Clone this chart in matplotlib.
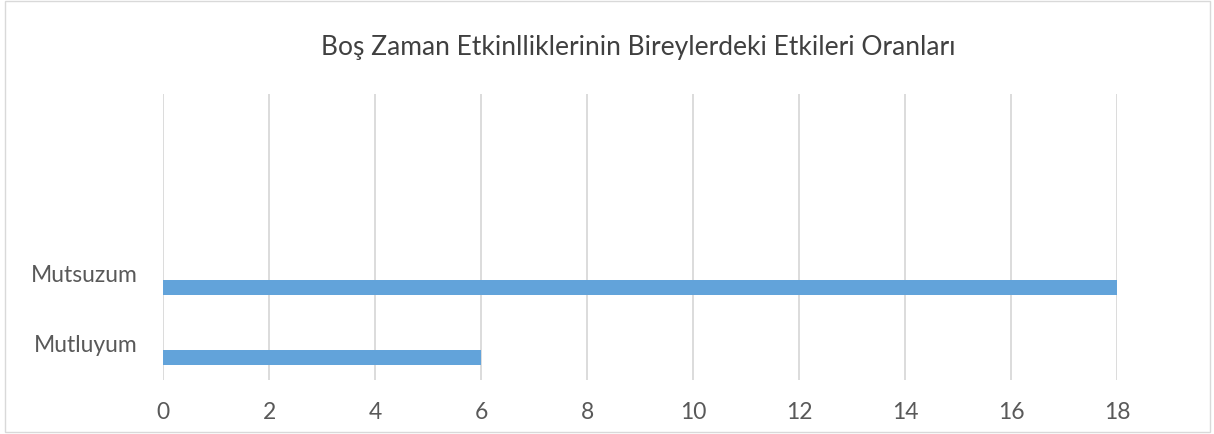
import matplotlib.pyplot as plt
from matplotlib.patches import Rectangle

categories = ['Mutluyum', 'Mutsuzum']
values = [6, 18]
x_ticks = [0, 2, 4, 6, 8, 10, 12, 14, 16, 18]
title = 'Boş Zaman Etkinlliklerinin Bireylerdeki Etkileri Oranları'

plt.rcParams['font.family'] = ['Lato', 'DejaVu Sans']

fig = plt.figure(figsize=(12.14, 4.35), dpi=100)
ax = fig.add_axes([163 / 1214, 1 - 381 / 435, (1117 - 163) / 1214, (381 - 95) / 435])

pos = list(range(len(categories)))
ax.barh(pos, values, height=0.215, color='#62A3DA', zorder=3)

ax.set_xlim(0, 18)
ax.set_ylim(-0.32, 3.76)
ax.set_xticks(x_ticks)
ax.set_xticklabels([str(t) for t in x_ticks])
# labels sit a little above the bars, like in the original
ax.set_yticks([p + 0.22 for p in pos])
ax.set_yticklabels(categories)
ax.tick_params(axis='both', length=0, colors='#595959', labelsize=16.5)
ax.tick_params(axis='x', pad=15)
ax.tick_params(axis='y', pad=18)
ax.grid(axis='x', color='#D9D9D9', linewidth=1.3, zorder=0)
for s in ax.spines.values():
    s.set_visible(False)

fig.text(638 / 1214, 1 - 47 / 435, title, ha='center', va='center',
         fontsize=19, color='#404040')

fig.patches.append(Rectangle((5 / 1214, 0.005), 1205 / 1214, 0.99,
                             transform=fig.transFigure, fill=False,
                             edgecolor='#D9D9D9', linewidth=1))

fig.savefig('out.png', dpi=100)
